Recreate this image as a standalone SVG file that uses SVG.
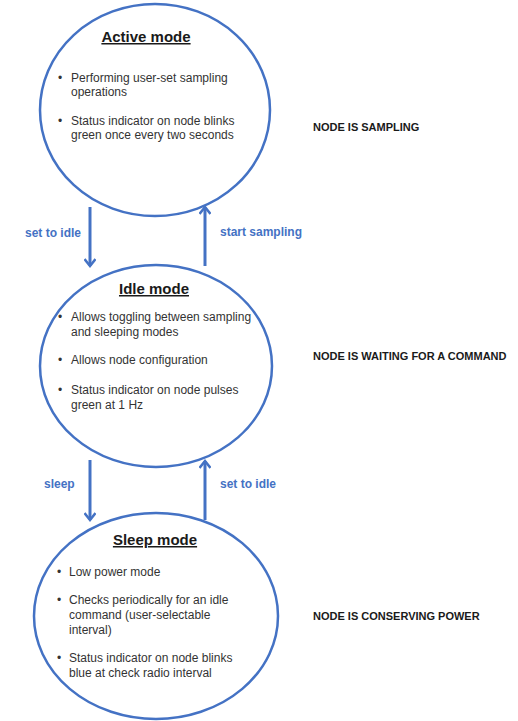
<svg xmlns="http://www.w3.org/2000/svg" width="518" height="721" viewBox="0 0 518 721">
<style>
.node{fill:#fff;stroke:#4472C4;stroke-width:2.5}
.title{font-family:"Liberation Sans",Arial,sans-serif;font-size:15px;font-weight:bold;fill:#1a1a1a;text-anchor:middle;text-decoration:underline}
.body{font-family:"Liberation Sans",Arial,sans-serif;font-size:12px;fill:#333}
.lab{font-family:"Liberation Sans",Arial,sans-serif;font-size:12px;font-weight:bold;fill:#4472C4}
.side{font-family:"Liberation Sans",Arial,sans-serif;font-size:11px;font-weight:bold;fill:#1a1a1a}
.conn{stroke:#4472C4;stroke-width:3;fill:none;marker-end:url(#ah)}
</style>
<defs>
<marker id="ah" markerWidth="12" markerHeight="12" refX="9" refY="6" orient="auto" markerUnits="userSpaceOnUse">
<polyline points="2,0.5 9,6 2,11.5" fill="none" stroke="#4472C4" stroke-width="2.5"/>
</marker>
</defs>
<rect width="518" height="721" fill="#fff"/>
<g id="connectors">
<line class="conn" x1="90" y1="207" x2="90" y2="266"/>
<line class="conn" x1="205" y1="266" x2="205" y2="207"/>
<line class="conn" x1="90" y1="460" x2="90" y2="520"/>
<line class="conn" x1="205" y1="520" x2="205" y2="461"/>
<text class="lab" x="25" y="237">set to idle</text>
<text class="lab" x="220" y="236">start sampling</text>
<text class="lab" x="44" y="488">sleep</text>
<text class="lab" x="220" y="488">set to idle</text>
</g>
<g id="active">
<ellipse class="node" cx="155" cy="110" rx="115" ry="106"/>
<text class="title" x="146" y="42">Active mode</text>
<text class="body" x="58" y="82">•</text>
<text class="body" x="71" y="82">Performing user-set sampling</text>
<text class="body" x="71" y="96">operations</text>
<text class="body" x="58" y="125">•</text>
<text class="body" x="71" y="125">Status indicator on node blinks</text>
<text class="body" x="71" y="139">green once every two seconds</text>
</g>
<g id="idle">
<ellipse class="node" cx="156" cy="366" rx="116" ry="101"/>
<text class="title" x="154" y="294">Idle mode</text>
<text class="body" x="58" y="321">•</text>
<text class="body" x="71" y="321">Allows toggling between sampling</text>
<text class="body" x="71" y="336">and sleeping modes</text>
<text class="body" x="58" y="364">•</text>
<text class="body" x="71" y="364">Allows node configuration</text>
<text class="body" x="58" y="394">•</text>
<text class="body" x="71" y="394">Status indicator on node pulses</text>
<text class="body" x="71" y="409">green at 1 Hz</text>
</g>
<g id="sleep">
<ellipse class="node" cx="156" cy="616" rx="122" ry="103"/>
<text class="title" x="155" y="545">Sleep mode</text>
<text class="body" x="57" y="576">•</text>
<text class="body" x="69" y="576">Low power mode</text>
<text class="body" x="57" y="604">•</text>
<text class="body" x="69" y="604">Checks periodically for an idle</text>
<text class="body" x="69" y="619">command (user-selectable</text>
<text class="body" x="69" y="634">interval)</text>
<text class="body" x="57" y="662">•</text>
<text class="body" x="69" y="662">Status indicator on node blinks</text>
<text class="body" x="69" y="677">blue at check radio interval</text>
</g>
<g id="side-labels">
<text class="side" x="313" y="131">NODE IS SAMPLING</text>
<text class="side" x="313" y="360">NODE IS WAITING FOR A COMMAND</text>
<text class="side" x="313" y="620">NODE IS CONSERVING POWER</text>
</g>
</svg>
